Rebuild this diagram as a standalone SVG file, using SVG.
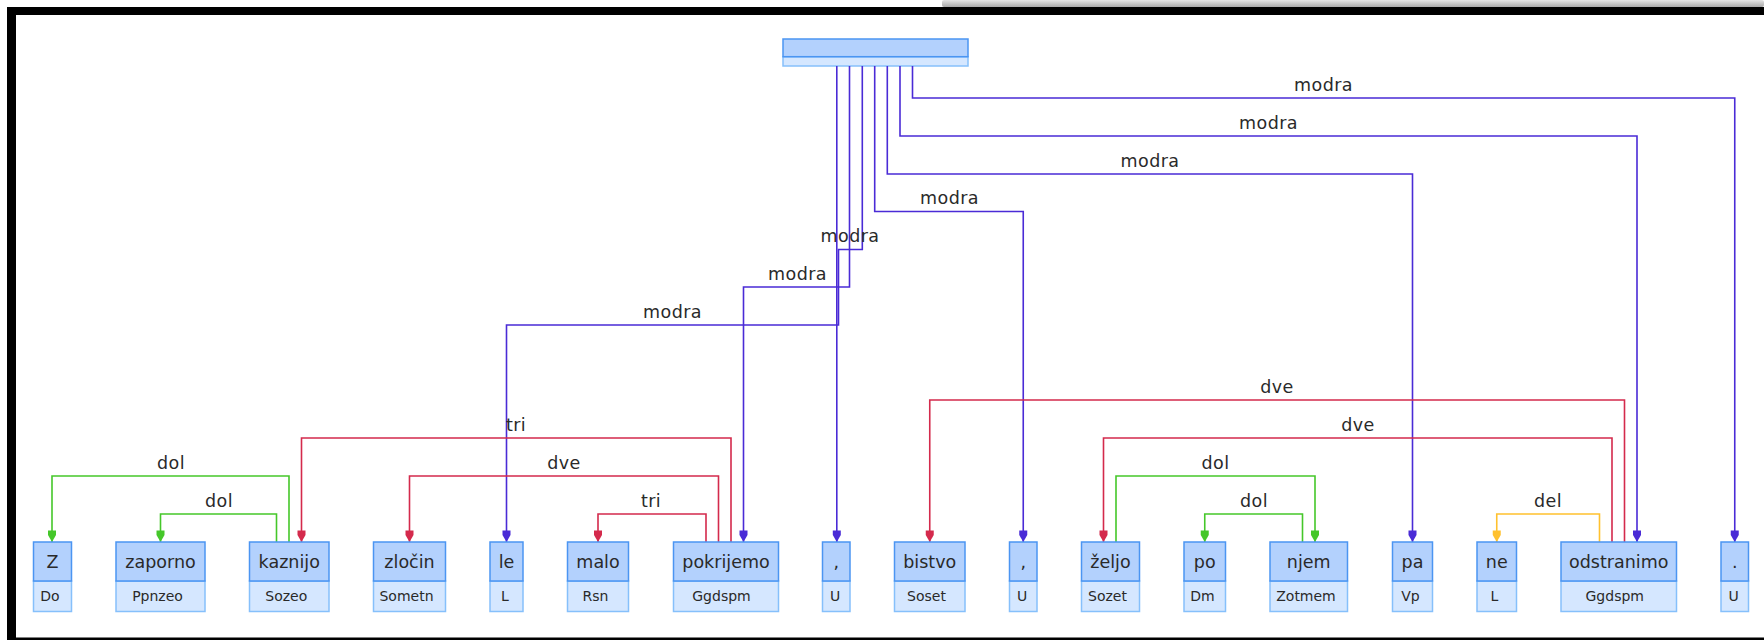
<svg xmlns="http://www.w3.org/2000/svg" width="1764" height="640" viewBox="0 0 1764 640">
<defs>
<linearGradient id="gray" x1="0" y1="0" x2="0" y2="1">
<stop offset="0" stop-color="#e4e4e4"/>
<stop offset="1" stop-color="#a8a8a8"/>
</linearGradient>
<marker id="ab" markerUnits="userSpaceOnUse" orient="auto" refX="0" refY="0" markerWidth="14" markerHeight="10" viewBox="-12 -5 14 10" overflow="visible"><path d="M0,0 L-7,4 L-11.5,4 L-11.5,-4 L-7,-4 Z" fill="#4a2bd6"/></marker>
<marker id="ar" markerUnits="userSpaceOnUse" orient="auto" refX="0" refY="0" markerWidth="14" markerHeight="10" viewBox="-12 -5 14 10" overflow="visible"><path d="M0,0 L-7,4 L-11.5,4 L-11.5,-4 L-7,-4 Z" fill="#d42a4c"/></marker>
<marker id="ag" markerUnits="userSpaceOnUse" orient="auto" refX="0" refY="0" markerWidth="14" markerHeight="10" viewBox="-12 -5 14 10" overflow="visible"><path d="M0,0 L-7,4 L-11.5,4 L-11.5,-4 L-7,-4 Z" fill="#45c72a"/></marker>
<marker id="ay" markerUnits="userSpaceOnUse" orient="auto" refX="0" refY="0" markerWidth="14" markerHeight="10" viewBox="-12 -5 14 10" overflow="visible"><path d="M0,0 L-7,4 L-11.5,4 L-11.5,-4 L-7,-4 Z" fill="#ffc12e"/></marker>
</defs>
<style>
.c{fill:none;stroke-width:1.6;stroke-linejoin:miter}
.b{stroke:#4a2bd6;marker-end:url(#ab)}
.bn{stroke:#4a2bd6}
.r{stroke:#d42a4c;marker-end:url(#ar)}
.g{stroke:#45c72a;marker-end:url(#ag)}
.y{stroke:#ffc12e;marker-end:url(#ay)}
.lbl{font-family:"DejaVu Sans",sans-serif;font-size:17.5px;letter-spacing:0.4px;fill:#2a2a2a;text-anchor:middle}
.nt{fill:#b3d1fd;stroke:#4b95f2;stroke-width:1.5}
.nb{fill:#d5e7ff;stroke:#86c0fb;stroke-width:1.5}
.w{font-family:"DejaVu Sans",sans-serif;font-size:17.5px;fill:#2a2a2a;text-anchor:middle}
.s{font-family:"DejaVu Sans",sans-serif;font-size:14px;fill:#2a2a2a;text-anchor:middle}
</style>
<rect x="0" y="0" width="1764" height="640" fill="#ffffff"/>
<g id="frame">
<rect x="942" y="0" width="822" height="7" rx="2" fill="url(#gray)"/>
<rect x="7" y="7" width="1757" height="8" fill="#000"/>
<rect x="7" y="7" width="9" height="633" fill="#000"/>
<rect x="7" y="637.5" width="1757" height="2.5" fill="#000"/>
</g>
<g id="root">
<rect x="783" y="56.7" width="185" height="9.3" class="nb"/>
<rect x="783" y="39" width="185" height="17.7" class="nt" stroke="#3d8cf5"/>
</g>
<g id="connectors">
<path class="c b" d="M912.5,66 V98 H1734.75 V542"/>
<path class="c b" d="M900,66 V136 H1637 V542"/>
<path class="c b" d="M887.3,66 V174 H1412.5 V542"/>
<path class="c b" d="M874.7,66 V211.5 H1023.25 V542"/>
<path class="c b" d="M862.3,66 V249.5 H838.5 V325 H506.5 V542"/>
<path class="c b" d="M849.5,66 V287 H743.5 V542"/>
<path class="c b" d="M836.8,66 V542"/>
<path class="c r" d="M731,542 V438 H301.5 V542"/>
<path class="c r" d="M718.5,542 V476 H409.5 V542"/>
<path class="c r" d="M706,542 V514 H598 V542"/>
<path class="c r" d="M1624.5,542 V400 H929.75 V542"/>
<path class="c r" d="M1612,542 V438 H1103.5 V542"/>
<path class="c g" d="M289,542 V476 H52 V542"/>
<path class="c g" d="M276.5,542 V514 H160.5 V542"/>
<path class="c g" d="M1116,542 V476 H1315 V542"/>
<path class="c g" d="M1302.5,542 V514 H1204.75 V542"/>
<path class="c y" d="M1599.5,542 V514 H1496.75 V542"/>
<text class="lbl" x="1323.5" y="90.5">modra</text>
<text class="lbl" x="1268.5" y="128.5">modra</text>
<text class="lbl" x="1150" y="166.5">modra</text>
<text class="lbl" x="949.5" y="204">modra</text>
<text class="lbl" x="850" y="242">modra</text>
<text class="lbl" x="797.5" y="279.5">modra</text>
<text class="lbl" x="672.5" y="317.5">modra</text>
<text class="lbl" x="516" y="430.5">tri</text>
<text class="lbl" x="564" y="468.5">dve</text>
<text class="lbl" x="651" y="506.5">tri</text>
<text class="lbl" x="1277" y="392.5">dve</text>
<text class="lbl" x="1358" y="430.5">dve</text>
<text class="lbl" x="171" y="468.5">dol</text>
<text class="lbl" x="219" y="506.5">dol</text>
<text class="lbl" x="1215.5" y="468.5">dol</text>
<text class="lbl" x="1254" y="506.5">dol</text>
<text class="lbl" x="1548" y="506.5">del</text>
</g>
<g id="n1"><rect x="33.5" y="581" width="38" height="30.5" class="nb"/><rect x="33.5" y="542" width="38" height="39" class="nt"/><text class="w" x="52.5" y="567.5">Z</text><text class="s" x="50" y="601">Do</text></g>
<g id="n2"><rect x="116" y="581" width="89" height="30.5" class="nb"/><rect x="116" y="542" width="89" height="39" class="nt"/><text class="w" x="160.5" y="567.5">zaporno</text><text class="s" x="157.5" y="601">Ppnzeo</text></g>
<g id="n3"><rect x="249.5" y="581" width="79.5" height="30.5" class="nb"/><rect x="249.5" y="542" width="79.5" height="39" class="nt"/><text class="w" x="289.25" y="567.5">kaznijo</text><text class="s" x="286.25" y="601">Sozeo</text></g>
<g id="n4"><rect x="373.5" y="581" width="72" height="30.5" class="nb"/><rect x="373.5" y="542" width="72" height="39" class="nt"/><text class="w" x="409.5" y="567.5">zločin</text><text class="s" x="406.5" y="601">Sometn</text></g>
<g id="n5"><rect x="490" y="581" width="33" height="30.5" class="nb"/><rect x="490" y="542" width="33" height="39" class="nt"/><text class="w" x="506.5" y="567.5">le</text><text class="s" x="505" y="601">L</text></g>
<g id="n6"><rect x="567.5" y="581" width="61" height="30.5" class="nb"/><rect x="567.5" y="542" width="61" height="39" class="nt"/><text class="w" x="598" y="567.5">malo</text><text class="s" x="595.5" y="601">Rsn</text></g>
<g id="n7"><rect x="673.5" y="581" width="105" height="30.5" class="nb"/><rect x="673.5" y="542" width="105" height="39" class="nt"/><text class="w" x="726" y="567.5">pokrijemo</text><text class="s" x="721.5" y="601">Ggdspm</text></g>
<g id="n8"><rect x="822.5" y="581" width="27.5" height="30.5" class="nb"/><rect x="822.5" y="542" width="27.5" height="39" class="nt"/><text class="w" x="836.25" y="567.5">,</text><text class="s" x="835" y="601">U</text></g>
<g id="n9"><rect x="894.5" y="581" width="70.5" height="30.5" class="nb"/><rect x="894.5" y="542" width="70.5" height="39" class="nt"/><text class="w" x="929.75" y="567.5">bistvo</text><text class="s" x="926.5" y="601">Soset</text></g>
<g id="n10"><rect x="1009.5" y="581" width="27.5" height="30.5" class="nb"/><rect x="1009.5" y="542" width="27.5" height="39" class="nt"/><text class="w" x="1023.25" y="567.5">,</text><text class="s" x="1022" y="601">U</text></g>
<g id="n11"><rect x="1081.5" y="581" width="58" height="30.5" class="nb"/><rect x="1081.5" y="542" width="58" height="39" class="nt"/><text class="w" x="1110.5" y="567.5">željo</text><text class="s" x="1107.5" y="601">Sozet</text></g>
<g id="n12"><rect x="1184" y="581" width="41.5" height="30.5" class="nb"/><rect x="1184" y="542" width="41.5" height="39" class="nt"/><text class="w" x="1204.75" y="567.5">po</text><text class="s" x="1202.5" y="601">Dm</text></g>
<g id="n13"><rect x="1270" y="581" width="77.5" height="30.5" class="nb"/><rect x="1270" y="542" width="77.5" height="39" class="nt"/><text class="w" x="1308.75" y="567.5">njem</text><text class="s" x="1306" y="601">Zotmem</text></g>
<g id="n14"><rect x="1392.5" y="581" width="40" height="30.5" class="nb"/><rect x="1392.5" y="542" width="40" height="39" class="nt"/><text class="w" x="1412.5" y="567.5">pa</text><text class="s" x="1410.5" y="601">Vp</text></g>
<g id="n15"><rect x="1477" y="581" width="39.5" height="30.5" class="nb"/><rect x="1477" y="542" width="39.5" height="39" class="nt"/><text class="w" x="1496.75" y="567.5">ne</text><text class="s" x="1494.5" y="601">L</text></g>
<g id="n16"><rect x="1561" y="581" width="115.5" height="30.5" class="nb"/><rect x="1561" y="542" width="115.5" height="39" class="nt"/><text class="w" x="1618.75" y="567.5">odstranimo</text><text class="s" x="1614.75" y="601">Ggdspm</text></g>
<g id="n17"><rect x="1721" y="581" width="27.5" height="30.5" class="nb"/><rect x="1721" y="542" width="27.5" height="39" class="nt"/><text class="w" x="1734.75" y="567.5">.</text><text class="s" x="1733.5" y="601">U</text></g>
</svg>
